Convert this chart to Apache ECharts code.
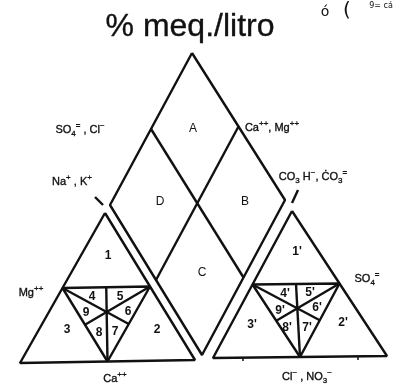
<!DOCTYPE html>
<html>
<head>
<meta charset="utf-8">
<script src="https://cdn.jsdelivr.net/npm/echarts@6/dist/echarts.min.js"></script>
<style>
  html, body { margin: 0; padding: 0; background: #ffffff; }
  #chart { width: 403px; height: 388px; }
</style>
</head>
<body>
<div id="chart"></div>
<script>
// Piper diagram outline: corners of the central diamond and the two ternary triangles
const diamondCorners = [[192, 53], [285, 200], [202, 355], [110, 205]];   // top, right, bottom, left
const cationCorners  = [[105, 213], [195, 360], [20, 363]];                // apex, right, left
const anionCorners   = [[292, 211], [387, 356], [213, 358]];               // apex, right, left

// Small pointer strokes from the axis names to the figures
const pointerStrokes = [
  [[95, 197], [103, 205]],
  [[298, 190], [292, 203]]
];
const baseTicks = [[243, 357], [358, 356]];

// Field names
const fieldLabels = [
  ['A', 193, 129], ['D', 160, 202], ['B', 245, 202], ['C', 202, 273]
];
const cationNumbers = [
  ['1', 108, 256], ['2', 157, 330], ['3', 67, 330], ['4', 92, 297], ['5', 120, 297],
  ['6', 128, 312], ['7', 115, 332], ['8', 99, 333], ['9', 86, 313]
];
const anionNumbers = [
  ["1'", 297, 252], ["2'", 343, 323], ["3'", 252, 325], ["4'", 285, 294], ["5'", 310, 293],
  ["6'", 317, 308], ["7'", 307, 328], ["8'", 287, 328], ["9'", 280, 311]
];
// Ion names (rich-text markup: {sub|..} subscripts, {sup|..} superscripts)
const ionLabels = [
  ['SO{sub|4}{sup|=} , Cl{sup|\u2212}', 80, 130],
  ['Ca{sup|++}, Mg{sup|++}', 272, 128],
  ['Na{sup|+} , K{sup|+}', 72, 182],
  ['CO{sub|3} H{sup|\u2212}, \u010AO{sub|3}{sup|=}', 313, 177],
  ['Mg{sup|++}', 31, 293],
  ['Ca{sup|++}', 115, 379],
  ['SO{sub|4}{sup|=}', 367, 279],
  ['Cl{sup|\u2212} , NO{sub|3}{sup|\u2212}', 307, 377]
];
const titleText = ['% meq./litro', 190, 27];
const cornerNotes = [['\u00F3', 325, 12, 14], ['(', 347, 11, 20], ['9= c\u00E1', 381, 6, 8]];

function mid(a, b) { return [(a[0] + b[0]) / 2, (a[1] + b[1]) / 2]; }

// Collect polylines
const polylines = [];
polylines.push(diamondCorners.concat([diamondCorners[0]]));
// diamond inner lines join midpoints of opposite edges
const dm = [
  mid(diamondCorners[0], diamondCorners[1]),
  mid(diamondCorners[1], diamondCorners[2]),
  mid(diamondCorners[2], diamondCorners[3]),
  mid(diamondCorners[3], diamondCorners[0])
];
polylines.push([dm[0], dm[2]]);
polylines.push([dm[3], dm[1]]);

function ternary(c) {
  const [apex, right, left] = c;
  polylines.push([apex, right, left, apex]);
  // inner triangle from edge midpoints
  const mL = mid(apex, left), mR = mid(apex, right), mB = mid(left, right);
  polylines.push([mL, mR, mB, mL]);
  // medians of the inner triangle
  polylines.push([mL, mid(mR, mB)]);
  polylines.push([mR, mid(mL, mB)]);
  polylines.push([mid(mL, mR), mB]);
}
ternary(cationCorners);
ternary(anionCorners);
pointerStrokes.forEach(p => polylines.push(p));

const ink = '#111111';
const series = polylines.map(pts => ({
  type: 'line',
  data: pts,
  symbol: 'none',
  lineStyle: { color: ink, width: 2.4, opacity: 1 },
  silent: true,
  animation: false,
  z: 2
}));

series.push({
  type: 'line',
  data: baseTicks.flatMap(t => [[t[0], t[1]], [t[0], t[1] + 4], null]),
  connectNulls: false,
  symbol: 'none',
  lineStyle: { color: ink, width: 1.5 },
  animation: false
});

function textSeries(items, style) {
  return {
    type: 'scatter',
    symbolSize: 0,
    animation: false,
    silent: true,
    z: 5,
    itemStyle: { opacity: 1, color: ink },
    data: items.map(it => ({ name: it[0], value: [it[1], it[2]] })),
    label: Object.assign({
      show: true,
      position: 'inside',
      formatter: p => p.name,
      color: ink,
      opacity: 1
    }, style)
  };
}

const ionRich = {
  sub: { fontFamily: 'Liberation Sans', fontSize: 8, color: ink, verticalAlign: 'bottom', lineHeight: 16,
         textBorderColor: ink, textBorderWidth: 0.3 },
  sup: { fontFamily: 'Liberation Sans', fontSize: 8, color: ink, verticalAlign: 'top', lineHeight: 16,
         textBorderColor: ink, textBorderWidth: 0.3 }
};

series.push(textSeries(fieldLabels, { fontFamily: 'Liberation Sans', fontSize: 12 }));
series.push(textSeries(cationNumbers, { fontFamily: 'Liberation Sans', fontSize: 12, fontWeight: 'bold' }));
series.push(textSeries(anionNumbers, { fontFamily: 'Liberation Sans', fontSize: 12, fontWeight: 'bold' }));
series.push(textSeries(ionLabels, { fontFamily: 'Liberation Sans', fontSize: 11, lineHeight: 16, rich: ionRich,
  textBorderColor: ink, textBorderWidth: 0.35 }));
series.push(textSeries([titleText], { fontFamily: 'Liberation Sans', fontSize: 32, textBorderColor: ink, textBorderWidth: 0.35 }));
cornerNotes.forEach(n => {
  series.push(textSeries([n], { fontFamily: 'DejaVu Sans', fontSize: n[3] }));
});

const chart = echarts.init(document.getElementById('chart'), null, { renderer: 'canvas' });
chart.setOption({
  backgroundColor: '#ffffff',
  animation: false,
  grid: { left: 0, right: 0, top: 0, bottom: 0 },
  xAxis: { type: 'value', min: 0, max: 403, show: false },
  yAxis: { type: 'value', min: 0, max: 388, inverse: true, show: false },
  series: series
});
</script>
</body>
</html>
